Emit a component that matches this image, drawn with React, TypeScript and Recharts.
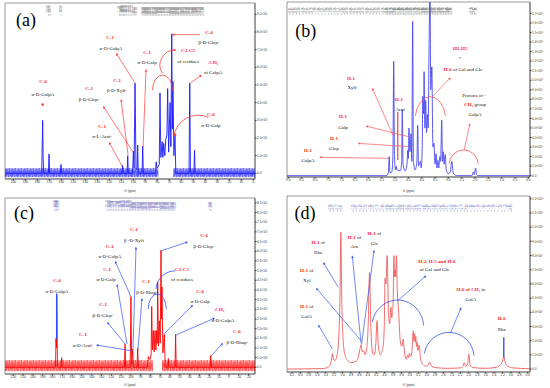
import React from "react";
import { LineChart, Line, XAxis, YAxis, ReferenceArea, ReferenceLine, ReferenceDot } from "recharts";

type Pt = [number, number];
type Note = [number, number, string, string];
type Arrow = [number, number, number, number, boolean];
type Arc = [number, number, number, number, number, number, boolean];

// ---- (a) 13C spectrum, ppm / intensity
const SPEC_A: Pt[] = [
  [207, 0], [176.4, 0], [176.0, 1.5], [175.6, 3.0], [175.2, 0.9], [174.8, 0],
  [170.8, 0], [170.3, 1.1], [169.8, 0],
  [160.8, 0], [160.3, 0.5], [159.8, 0],
  [109.5, 0], [109.0, 0.45], [108.5, 0],
  [105.2, 0], [104.7, 1.0], [104.2, 0],
  [100.6, 0], [100.0, 1.25], [99.4, 0.3], [98.6, 5.1], [97.8, 0.3], [96.9, 0.2], [96.4, 1.6], [95.9, 0],
  [92.7, 0], [92.2, 1.55], [91.7, 0],
  [81.6, 0], [81.0, 0.65], [80.2, 0.3], [78.4, 0.5], [77.8, 4.55], [77.1, 0.9], [76.0, 1.8], [75.4, 0.9],
  [74.7, 1.7], [73.8, 1.0], [73.0, 1.9], [72.0, 2.2], [71.4, 4.8], [70.6, 1.2], [69.4, 4.0], [68.7, 1.5],
  [68.0, 7.9], [67.5, 2.5], [67.0, 5.2], [66.2, 1.0], [65.3, 2.2], [64.6, 0],
  [53.6, 0], [53.0, 5.1], [52.4, 0],
  [49.5, 0], [49.0, 1.3], [48.5, 0],
  [-1.4, 0],
];
const X_TICKS_A = [200, 190, 180, 170, 160, 150, 140, 130, 120, 110, 100, 90, 80, 70, 60, 50, 40, 30, 20, 10, 0];
const Y_TICKS_A = [0, 1, 2, 3, 4, 5, 6, 7, 8, 9];
const Y_LABELS_A = ["0.0", "1.0×10⁷", "2.0×10⁷", "3.0×10⁷", "4.0×10⁷", "5.0×10⁷", "6.0×10⁷", "7.0×10⁷", "8.0×10⁷", "9.0×10⁷"];
const PICKS_A = [170.8, 169.4, 160.3, 111.7, 110.6, 109.4, 108.3, 107.2, 106.1, 104.4, 102.8, 101.1, 99.4, 97.8,
  92.2, 90.9, 89.6, 88.3, 87.0, 85.7, 84.4, 83.1, 81.8, 80.5, 79.2, 77.9, 76.6, 75.3, 74.0, 72.7, 71.4, 70.1,
  68.8, 67.5, 66.2, 64.9, 63.6, 62.3, 61.0, 59.7, 58.4, 57.1, 55.8, 54.5, 53.2, 51.9, 50.6, 49.3, 48.0, 46.7,
  45.4, 44.1, 42.8, 41.5];
const NOTES_A: Note[] = [
  [175.3, 5.22, "C-6", ""], [175.3, 4.49, "", "α-D-GalpA"],
  [119.4, 7.71, "C-1", ""], [118.6, 7.09, "", "α-D-GalpA"],
  [88.6, 6.86, "C-1", ""], [88.6, 6.3, "", "α-D-Galp"],
  [113.6, 5.28, "C-1", ""], [113.6, 4.71, "", "β-D-Xylf-"],
  [136.9, 4.83, "C-1", ""], [136.9, 4.2, "", "β-D-Glcp-"],
  [126.1, 2.68, "C-1", ""], [126.1, 2.11, "", "α-L-Araf-"],
  [36.9, 8.0, "C-6", ""], [36.9, 7.43, "", "β-D-Glcp-"],
  [54.4, 6.98, "C2-C5", ""], [54.4, 6.36, "", "of residues"],
  [33.6, 6.3, "-CH₃", ""], [33.6, 5.73, "", "of GalpA"],
  [35.3, 3.35, "C-6", ""], [35.3, 2.73, "", "α-D-Galp"],
];
const ARROWS_A: Arrow[] = [
  [98.6, 5.11, 114.4, 6.81, true], [91.9, 1.49, 89.4, 5.9, true], [104.4, 1.04, 110.3, 4.2, true],
  [100.3, 1.21, 125.3, 3.81, true], [109.4, 0.41, 120.3, 1.77, true], [44.4, 7.85, 67.8, 7.85, true],
  [52.8, 5.11, 42.8, 5.57, true],
];
const ARCS_A: Arc[] = [
  [75.7, 4.71, 10, 15, 180, 0, false], [65.3, 6.13, 15, 15, 214, 86, true], [45.8, 1.88, 25, 25, 172, 66, false],
];
const DOTS_A: Pt[] = [[175.6, 3.9], [65.3, 2.2]];

// ---- (b) 1H spectrum
const SPEC_B: Pt[] = [
  [9.05, 0], [5.32, 0], [5.25, 0.3], [5.22, 2.0], [5.19, 0.3], [5.12, 0.4], [5.08, 2.0], [5.05, 12.0], [5.02, 2.0],
  [4.98, 0.6], [4.95, 1.0], [4.93, 0.6], [4.80, 0.5], [4.75, 1.5], [4.73, 6.9], [4.70, 1.2], [4.62, 0.5], [4.55, 1.2],
  [4.52, 2.7], [4.50, 1.8], [4.48, 5.0], [4.44, 2.5], [4.40, 4.4], [4.37, 1.5], [4.34, 16.2], [4.31, 1.5], [4.25, 0.6],
  [4.18, 1.5], [4.15, 5.3], [4.12, 1.0], [4.05, 1.5], [4.02, 0.8], [3.98, 3.0], [3.96, 8.3], [3.93, 6.5], [3.91, 10.9],
  [3.88, 5.0], [3.85, 7.9], [3.82, 4.5], [3.79, 6.4], [3.76, 5.0], [3.72, 14.4], [3.69, 19.5], [3.66, 9.0], [3.62, 11.4],
  [3.58, 3.0], [3.54, 3.4], [3.50, 1.2], [3.46, 2.3], [3.43, 0.8], [3.39, 1.6], [3.36, 0.8], [3.32, 2.0], [3.29, 1.5],
  [3.25, 5.8], [3.22, 1.5], [3.19, 2.5], [3.16, 1.2], [3.12, 2.2], [3.08, 0.6], [3.00, 0.2], [2.93, 0.4], [2.87, 1.5],
  [2.82, 0.3], [2.70, 0], [2.12, 0], [2.06, 0.4], [2.03, 0.1], [1.98, 0.8], [1.94, 0.1], [1.90, 0], [-0.06, 0],
];
const X_TICKS_B = [9, 8.5, 8, 7.5, 7, 6.5, 6, 5.5, 5, 4.5, 4, 3.5, 3, 2.5, 2, 1.5, 1, 0.5, 0];
const Y_TICKS_B = [0, 1, 2, 3, 4, 5, 6, 7, 8, 9, 10, 11, 12, 13, 14, 15, 16, 17];
const Y_LABELS_B = ["0.0", "1.0×10⁷", "2.0×10⁷", "3.0×10⁷", "4.0×10⁷", "5.0×10⁷", "6.0×10⁷", "7.0×10⁷", "8.0×10⁷",
  "9.0×10⁷", "1.0×10⁸", "1.1×10⁸", "1.2×10⁸", "1.3×10⁸", "1.4×10⁸", "1.5×10⁸", "1.6×10⁸", "1.7×10⁸"];
const PICKS_B = [8.94, 8.82, 8.70, 8.58, 8.46, 8.34, 8.22, 8.10, 7.98, 7.86, 7.74, 7.62, 7.50, 7.38, 7.26, 7.14,
  7.02, 6.90, 6.78, 6.66, 6.54, 6.42, 6.30, 6.18, 6.06, 5.94, 5.82, 5.70, 5.58, 5.46, 5.34,
  5.28, 5.22, 5.16, 5.10, 5.04, 4.98, 4.92, 4.86, 4.80, 4.74, 4.68, 4.62, 4.56, 4.50, 4.44, 4.38, 4.32, 4.26,
  4.20, 4.14, 4.08, 4.02, 3.96, 3.90, 3.84, 3.78, 3.72, 3.66, 3.60, 3.54, 3.48, 3.42, 3.36, 3.30, 3.24, 3.18,
  3.12, 3.06, 3.00, 2.94, 2.88, 2.16, 2.10, 2.02, 1.96];
const NOTES_B: Note[] = [
  [2.56, 13.4, "H2-H5", ""], [2.56, 12.3, "", "*"], [2.45, 11.2, "H-6", " of Gal and Glc"],
  [6.65, 10.2, "H-1", ""], [6.61, 9.3, "", "Xylf"],
  [4.85, 8.04, "H-1", ""], [4.81, 6.99, "", "Araf"],
  [6.95, 6.26, "H-1", ""], [6.95, 5.1, "", "Galp"],
  [7.29, 3.95, "H-1", ""], [7.29, 2.9, "", "Glcp"],
  [8.26, 2.69, "H-1", ""], [8.26, 1.64, "", "GalpA"],
  [2.04, 8.46, "", "Protons of -"], [2.0, 7.52, "CH₃", " group"], [2.0, 6.47, "", "GalpA"],
];
const ARROWS_B: Arrow[] = [
  [5.08, 4.27, 5.86, 9.2, true], [4.9, 6.68, 4.9, 1.64, false], [4.5, 4.09, 6.1, 5.21, true],
  [4.5, 3.04, 6.4, 3.39, true], [5.22, 1.82, 7.84, 1.92, true], [3.6, 8.29, 2.91, 10.3, true],
  [2.41, 2.69, 2.19, 5.49, true],
];
const ARCS_B: Arc[] = [
  [3.675, 5.84, 15.3, 23.3, 170, 10, false], [2.425, 1.12, 14.7, 15, 175, 5, false],
];

// ---- (c) 13C spectrum
const SPEC_C: Pt[] = [
  [228.5, 0], [177.0, 0], [176.4, 3.0], [176.0, 2.0], [175.8, 7.6], [175.4, 5.1], [175.0, 0],
  [171.3, 0], [170.7, 1.0], [170.1, 0],
  [106.6, 0], [106.0, 2.4], [105.4, 0],
  [100.7, 0], [100.0, 7.3], [99.2, 0.3], [98.2, 1.9], [97.5, 0],
  [93.7, 0], [93.1, 2.0], [92.5, 0],
  [83.2, 0], [82.2, 1.1], [80.6, 0.8], [79.4, 1.3], [78.8, 6.3], [78.1, 1.8], [77.1, 3.8], [76.3, 1.6], [75.4, 3.8],
  [74.5, 1.8], [73.7, 3.8], [73.2, 2.5], [72.7, 8.8], [71.9, 2.2], [71.0, 4.8], [70.1, 2.5], [69.3, 12.1], [68.8, 5.0],
  [68.3, 8.3], [67.4, 1.5], [65.9, 3.4], [65.0, 0],
  [62.4, 0], [61.8, 0.9], [61.2, 0],
  [55.0, 0], [54.4, 3.4], [53.8, 0],
  [19.2, 0], [18.6, 1.2], [18.0, 0],
  [-26.6, 0],
];
const X_TICKS_C = [220, 210, 200, 190, 180, 170, 160, 150, 140, 130, 120, 110, 100, 90, 80, 70, 60, 50, 40, 30, 20, 10, 0, -10, -20];
const Y_TICKS_C = [0, 1, 2, 3, 4, 5, 6, 7, 8, 9, 10, 11, 12, 13, 14, 15, 16, 17];
const Y_LABELS_C = ["0.0", "5.0×10⁶", "1.0×10⁷", "1.5×10⁷", "2.0×10⁷", "2.5×10⁷", "3.0×10⁷", "3.5×10⁷", "4.0×10⁷",
  "4.5×10⁷", "5.0×10⁷", "5.5×10⁷", "6.0×10⁷", "6.5×10⁷", "7.0×10⁷", "7.5×10⁷", "8.0×10⁷", "8.5×10⁷"];
const PICKS_C = [177.5, 176.4, 175.3, 174.2, 124.1, 122.5, 120.9, 119.3, 117.7, 116.1, 114.5, 112.9, 111.3, 109.7,
  108.1, 106.5, 104.9, 103.3, 101.7, 100.1, 98.5, 96.9, 95.3, 93.7, 92.1, 90.5, 88.9, 87.3, 85.7, 84.1, 82.5, 80.9,
  79.3, 77.7, 76.1, 74.5, 72.9, 71.3, 69.7, 68.1, 66.5, 64.9, 63.3, 61.7, 60.1, 58.5, 56.9, 55.3, 19.3, 18.3];
const NOTES_C: Note[] = [
  [175.4, 9.03, "C-6", ""], [175.4, 7.9, "", "α-D-GalpA"],
  [96.9, 14.3, "C-1", ""], [96.9, 13.2, "", "β -D-Xylf"],
  [121.4, 12.55, "C-1", ""], [121.4, 11.5, "", "α-D-GalpA"],
  [124.4, 10.17, "C-1", ""], [125.4, 9.14, "", "α-D-Galp"],
  [84.6, 8.93, "C-1", ""], [83.6, 7.79, "", "β-D-Rhap-"],
  [128.5, 6.55, "C-1", ""], [128.5, 5.41, "", "β-D-Glcp-"],
  [148.9, 3.45, "C-1", ""], [148.9, 2.31, "", "α-D-Araf-"],
  [25.4, 13.7, "C-6", ""], [25.4, 12.55, "", "β-D-Glcp-"],
  [47.9, 10.17, "C2-C5", ""], [47.9, 9.14, "", "of residues"],
  [29.5, 7.9, "C-6", ""], [29.5, 6.86, "", "α-D-Galp"],
  [10.1, 6.03, "-CH₃", ""], [6.05, 4.9, "", "α-D-GalpA"],
  [-8.2, 3.76, "C-6", ""], [-8.6, 2.62, "", "β-D-Rhap-"],
];
const ARROWS_C: Arrow[] = [
  [97.9, 1.9, 94.8, 12.45, true], [99.9, 7.28, 116.3, 11.0, true], [104, 2.41, 114.2, 8.62, true],
  [92.8, 1.9, 88.7, 7.17, true], [106, 2.41, 124.4, 4.69, true], [97.9, 1.69, 135.6, 2.31, true],
  [69.3, 12.03, 41.8, 12.97, true], [66.3, 3.45, 36.7, 6.45, true], [54, 3.34, 14.2, 5.1, true],
  [18.3, 1.17, 6.05, 2.52, true], [175.8, 7.6, 175.8, 2.9, false],
];
const ARCS_C: Arc[] = [
  [73.1, 6.03, 9, 15, 180, 0, false], [55.0, 8.0, 19, 19, 177, 90, false],
];

// ---- (d) 1H spectrum
const SPEC_D: Pt[] = [
  [6.32, 0], [5.5, 0.03], [5.35, 0.1], [5.29, 0.35], [5.26, 0.7], [5.24, 1.1], [5.22, 0.7], [5.18, 0.6], [5.13, 1.0],
  [5.09, 2.2], [5.06, 5.5], [5.04, 9.65], [5.02, 5.0], [4.99, 2.2], [4.95, 1.1], [4.88, 0.6], [4.78, 0.45], [4.68, 0.55],
  [4.62, 0.9], [4.58, 1.5], [4.56, 1.7], [4.53, 1.2], [4.50, 1.3], [4.47, 1.0], [4.43, 1.4], [4.39, 3.2], [4.36, 6.8],
  [4.33, 3.2], [4.29, 1.2], [4.25, 1.0], [4.21, 1.8], [4.18, 3.4], [4.15, 1.6], [4.10, 1.0], [4.06, 1.3], [4.03, 1.75],
  [4.01, 3.0], [3.99, 6.4], [3.97, 6.0], [3.94, 8.0], [3.91, 4.0], [3.88, 3.2], [3.85, 4.35], [3.83, 3.6], [3.82, 3.9],
  [3.80, 4.5], [3.78, 8.0], [3.765, 6.5], [3.75, 7.0], [3.735, 6.5], [3.72, 8.0], [3.70, 5.5], [3.67, 4.2], [3.63, 2.0],
  [3.59, 1.6], [3.56, 2.1], [3.53, 1.2], [3.49, 0.7], [3.45, 1.0], [3.43, 0.8], [3.41, 1.1], [3.38, 0.9], [3.35, 1.3],
  [3.32, 2.7], [3.305, 2.0], [3.29, 2.5], [3.275, 1.9], [3.26, 2.3], [3.245, 1.6], [3.23, 1.9], [3.21, 1.3], [3.18, 1.7],
  [3.15, 0.8], [3.10, 0.35], [3.0, 0.2], [2.96, 0.3], [2.93, 0.5], [2.90, 0.25], [2.80, 0.1], [2.5, 0.05], [2.2, 0.08],
  [2.14, 0.2], [2.11, 0.45], [2.08, 0.2], [2.03, 0.35], [2.0, 1.05], [1.97, 0.3], [1.9, 0.1], [1.6, 0.05], [1.35, 0.12],
  [1.25, 0.3], [1.2, 0.55], [1.17, 0.9], [1.14, 0.5], [1.08, 0.2], [0.95, 0.08], [0.547, 0.02],
];
const X_TICKS_D = [6.2, 6.0, 5.8, 5.6, 5.4, 5.2, 5.0, 4.8, 4.6, 4.4, 4.2, 4.0, 3.8, 3.6, 3.4, 3.2, 3.0, 2.8, 2.6,
  2.4, 2.2, 2.0, 1.8, 1.6, 1.4, 1.2, 1.0, 0.8, 0.6];
const Y_TICKS_D = [0, 1, 2, 3, 4, 5, 6, 7, 8, 9, 10, 11, 12];
const Y_LABELS_D = ["0.0", "1.0×10⁷", "2.0×10⁷", "3.0×10⁷", "4.0×10⁷", "5.0×10⁷", "6.0×10⁷", "7.0×10⁷", "8.0×10⁷",
  "9.0×10⁷", "1.0×10⁸", "1.1×10⁸", "1.2×10⁸"];
const PICKS_D = [5.30, 5.22, 5.12, 5.04, 4.75, 4.67, 4.59, 4.51, 4.43, 4.35, 4.27, 4.19, 4.11, 4.03, 3.95, 3.87, 3.79,
  3.71, 3.63, 3.55, 3.47, 3.39, 3.31, 3.23, 3.15, 3.07, 2.99, 2.91, 2.83, 2.75, 2.67, 2.59, 2.51, 2.43, 2.35, 2.27,
  2.19, 2.11, 2.03, 1.95, 1.87, 1.79, 1.71, 1.63, 1.55, 1.47, 1.39, 1.31, 1.23, 1.15, 1.07, 0.99];
const NOTES_D: Note[] = [
  [5.58, 8.94, "H-1", " of"], [5.58, 8.24, "", "Rha"],
  [4.72, 9.34, "H-1", " of"], [4.72, 8.64, "", "Ara"],
  [4.245, 9.6, "H-1", " of"], [4.245, 8.87, "", "Glc"],
  [5.85, 6.99, "H-1", " of"], [5.85, 6.28, "", "Xyl"],
  [5.85, 4.47, "H-1", " of"], [5.85, 3.76, "", "GalA"],
  [2.76, 7.65, "H-2, H-5 and H-6", ""], [2.82, 7.06, "", "of Gal and Glc"],
  [1.95, 5.65, "H-6 of CH₃", " in"], [1.95, 4.94, "", "GalA"],
  [1.22, 3.6, "H-6", ""], [1.22, 2.82, "", "Rha"],
];
const ARROWS_D: Arrow[] = [
  [5.1, 5.76, 5.46, 7.53, true], [4.56, 2.0, 5.63, 5.72, true], [4.56, 1.81, 4.77, 8.0, true],
  [4.55, 1.72, 4.25, 8.4, true], [5.24, 1.41, 5.58, 3.13, true], [3.69, 4.82, 3.01, 6.59, true],
  [2.44, 2.52, 2.18, 4.35, true], [1.17, 2.24, 1.17, 0.82, false],
];
const ARCS_D: Arc[] = [
  [3.69, 2.94, 26, 27.3, 169, 4, false], [2.47, 0.82, 25, 25, 171, 4, false],
];

const SERIF = "'Liberation Serif', 'Times New Roman', serif";
const SANS = "'Liberation Sans', Arial, sans-serif";

function arrowShape(color: string, head: boolean, w: number) {
  return (p: any) => {
    const { x1, y1, x2, y2 } = p;
    const dx = x2 - x1, dy = y2 - y1;
    const L = Math.hypot(dx, dy) || 1;
    const ux = dx / L, uy = dy / L;
    const s = 2.6;
    const bx = x2 - ux * s, by = y2 - uy * s;
    return (
      <g>
        <line x1={x1} y1={y1} x2={head ? bx : x2} y2={head ? by : y2} stroke={color} strokeWidth={w} />
        {head && (
          <polygon
            points={`${x2},${y2} ${bx - uy * 1.3},${by + ux * 1.3} ${bx + uy * 1.3},${by - ux * 1.3}`}
            fill={color}
          />
        )}
      </g>
    );
  };
}

function arcShape(color: string, a: Arc) {
  const [, , rx, ry, a0, a1, head] = a;
  return (p: any) => {
    const { cx, cy } = p;
    const r = (d: number) => (d * Math.PI) / 180;
    const sx = cx + rx * Math.cos(r(a0)), sy = cy - ry * Math.sin(r(a0));
    const ex = cx + rx * Math.cos(r(a1)), ey = cy - ry * Math.sin(r(a1));
    const large = a0 - a1 > 180 ? 1 : 0;
    let tx = rx * Math.sin(r(a1)), ty = ry * Math.cos(r(a1));
    const L = Math.hypot(tx, ty) || 1;
    tx /= L; ty /= L;
    const bx = ex - tx * 2.6, by = ey - ty * 2.6;
    return (
      <g>
        <path d={`M${sx},${sy} A${rx},${ry} 0 ${large} 1 ${ex},${ey}`} stroke={color} strokeWidth={0.8} fill="none" />
        {head && (
          <polygon points={`${ex},${ey} ${bx - ty * 1.3},${by + tx * 1.3} ${bx + ty * 1.3},${by - tx * 1.3}`} fill={color} />
        )}
      </g>
    );
  };
}

function noteShape(n: Note, red: string) {
  return (p: any) => (
    <text x={p.cx} y={p.cy} textAnchor="middle" dominantBaseline="central" fontFamily={SERIF} fontSize={5}>
      {n[2] && <tspan fill={red} fontWeight="bold">{n[2]}</tspan>}
      {n[3] && <tspan fill="#1a1a1a">{n[3]}</tspan>}
    </text>
  );
}

type PanelProps = {
  left: number;
  top: number;
  mt: number;
  ml: number;
  xh: number;
  xDomain: [number, number];
  yDomain: [number, number];
  xTicks: number[];
  xDec: number;
  yTicks: number[];
  yLabels: string[];
  spec: Pt[];
  curve: "linear" | "monotone";
  color: string;
  noise?: [number, number][];
  noiseY?: [number, number];
  noiseColor?: string;
  picks: number[];
  pickColor: string;
  stripTop: number;
  stripH: number;
  notes: Note[];
  arrows: Arrow[];
  arcs: Arc[];
  dots?: Pt[];
  ink: string;
  red: string;
  letter: [number, number, string];
  id: string;
};

function Panel(P: PanelProps) {
  const data = P.spec.map(([p, i]) => ({ p, i }));
  const plotH = 194 - P.mt - P.xh;
  const ySpan = P.yDomain[1] - P.yDomain[0];
  const yPx = (v: number) => P.mt + ((P.yDomain[1] - v) / ySpan) * plotH;
  let noiseDefs = null;
  if (P.noise && P.noiseY) {
    const t = yPx(P.noiseY[1]);
    const h = yPx(P.noiseY[0]) - t;
    const c = P.noiseColor!;
    const segs: [number, number][] = [[0.05, 0.95], [0.3, 0.8], [0.1, 0.7], [0.35, 1], [0, 0.6], [0.2, 0.9], [0.4, 0.85], [0.15, 1]];
    noiseDefs = (
      <svg width={0} height={0} style={{ position: "absolute" }}>
        <defs>
          <pattern id={`nz${P.id}`} x={0} y={t} width={segs.length * 0.75} height={h} patternUnits="userSpaceOnUse">
            <rect width={segs.length * 0.75} height={h} fill={c} fillOpacity={0.3} />
            {segs.map((s, k) => (
              <line key={k} x1={k * 0.75 + 0.35} x2={k * 0.75 + 0.35} y1={s[0] * h} y2={s[1] * h} stroke={c} strokeWidth={0.55} />
            ))}
          </pattern>
        </defs>
      </svg>
    );
  }
  const pickShape = (p: any) => {
    const b = P.stripTop + P.stripH;
    return (
      <g>
        <text
          transform={`translate(${p.cx + 0.9},${b - 0.5}) rotate(-90)`}
          fontSize={2.6}
          fontFamily={SANS}
          fill={P.pickColor}
        >
          {p.label}
        </text>
        <line x1={p.cx} x2={p.cx} y1={b} y2={b + 1.8} stroke={P.pickColor} strokeWidth={0.4} />
      </g>
    );
  };
  return (
    <div style={{ position: "absolute", left: P.left, top: P.top }}>
      {noiseDefs}
      <LineChart width={275} height={194} data={data} margin={{ top: P.mt, left: P.ml, right: 0, bottom: 0 }}>
        <XAxis
          dataKey="p"
          type="number"
          domain={P.xDomain}
          reversed
          allowDataOverflow
          ticks={P.xTicks}
          interval={0}
          height={P.xh}
          tickSize={1.5}
          tickMargin={0.5}
          tick={{ fontSize: 3.3, fill: "#333", fontFamily: SANS }}
          tickFormatter={(v: number) => v.toFixed(P.xDec)}
          stroke="#333"
          axisLine={{ stroke: "#333", strokeWidth: 0.6 }}
          label={{ value: "f1 (ppm)", position: "insideBottom", offset: 2, fontSize: 3.3, fill: "#333" }}
        />
        <YAxis
          orientation="right"
          type="number"
          domain={P.yDomain}
          allowDataOverflow
          ticks={P.yTicks}
          interval={0}
          width={20}
          tickSize={1.5}
          tickMargin={0.5}
          tick={{ fontSize: 3.2, fill: "#333", fontFamily: SANS }}
          tickFormatter={(v: number) => P.yLabels[P.yTicks.indexOf(v)] ?? ""}
          axisLine={{ stroke: "#333", strokeWidth: 0.6 }}
          stroke="#333"
        />
        <ReferenceArea
          x1={P.xDomain[0]}
          x2={P.xDomain[1]}
          y1={P.yDomain[0]}
          y2={P.yDomain[1]}
          fill="none"
          stroke="#555"
          strokeWidth={0.6}
          ifOverflow="visible"
        />
        {P.noise &&
          P.noise.map((r, k) => (
            <ReferenceArea
              key={`nz${k}`}
              x1={r[0]}
              x2={r[1]}
              y1={P.noiseY![0]}
              y2={P.noiseY![1]}
              fill={`url(#nz${P.id})`}
              fillOpacity={1}
              stroke="none"
              ifOverflow="visible"
            />
          ))}
        <Line
          dataKey="i"
          type={P.curve}
          stroke={P.color}
          strokeWidth={0.9}
          dot={false}
          activeDot={false}
          isAnimationActive={false}
        />
        {P.picks.map((v, k) => (
          <ReferenceDot
            key={`pk${k}`}
            x={v}
            y={P.yDomain[1]}
            r={1}
            ifOverflow="visible"
            shape={(p: any) => pickShape({ ...p, label: v.toFixed(2) })}
          />
        ))}
        {P.arcs.map((a, k) => (
          <ReferenceDot key={`arc${k}`} x={a[0]} y={a[1]} r={1} ifOverflow="visible" shape={arcShape(P.ink, a)} />
        ))}
        {P.arrows.map((a, k) => (
          <ReferenceLine
            key={`ar${k}`}
            segment={[{ x: a[0], y: a[1] }, { x: a[2], y: a[3] }]}
            ifOverflow="visible"
            shape={arrowShape(P.ink, a[4], a[4] ? 0.7 : 1.4)}
          />
        ))}
        {(P.dots || []).map((d, k) => (
          <ReferenceDot key={`dt${k}`} x={d[0]} y={d[1]} r={1.3} fill={P.ink} stroke="none" ifOverflow="visible" />
        ))}
        {P.notes.map((n, k) => (
          <ReferenceDot key={`nt${k}`} x={n[0]} y={n[1]} r={1} ifOverflow="visible" shape={noteShape(n, P.red)} />
        ))}
        <ReferenceDot
          x={P.letter[0]}
          y={P.letter[1]}
          r={1}
          ifOverflow="visible"
          shape={(p: any) => (
            <text x={p.cx} y={p.cy} textAnchor="middle" dominantBaseline="central" fontFamily={SERIF} fontSize={18} fill="#000">
              {P.letter[2]}
            </text>
          )}
        />
      </LineChart>
    </div>
  );
}

export default function App() {
  return (
    <div style={{ position: "absolute", left: 0, top: 0, width: 550, height: 388, background: "#fff", overflow: "hidden" }}>
      <Panel
        id="a" left={0} top={0} mt={3} ml={5} xh={15}
        xDomain={[-1.4, 207]} yDomain={[-0.32, 9.64]}
        xTicks={X_TICKS_A} xDec={0} yTicks={Y_TICKS_A} yLabels={Y_LABELS_A}
        spec={SPEC_A} curve="linear" color="#1a1aff"
        noise={[[207, 79.2], [66.7, -1.4]]} noiseY={[-0.22, 0.3]} noiseColor="#1f1fff"
        picks={PICKS_A} pickColor="#666" stripTop={4} stripH={10}
        notes={NOTES_A} arrows={ARROWS_A} arcs={ARCS_A} dots={DOTS_A} ink="#ff3b3b" red="#ff1a1a"
        letter={[189.4, 8.69, "(a)"]}
      />
      <Panel
        id="b" left={275} top={0} mt={2} ml={12} xh={17}
        xDomain={[-0.06, 9.05]} yDomain={[-0.14, 18.2]}
        xTicks={X_TICKS_B} xDec={1} yTicks={Y_TICKS_B} yLabels={Y_LABELS_B}
        spec={SPEC_B} curve="monotone" color="#4646f0"
        picks={PICKS_B} pickColor="#666" stripTop={3} stripH={10}
        notes={NOTES_B} arrows={ARROWS_B} arcs={ARCS_B} ink="#ff5555" red="#ff1a1a"
        letter={[8.35, 15.2, "(b)"]}
      />
      <Panel
        id="c" left={0} top={194} mt={4} ml={5} xh={14}
        xDomain={[-26.6, 228.5]} yDomain={[-0.69, 17.5]}
        xTicks={X_TICKS_C} xDec={0} yTicks={Y_TICKS_C} yLabels={Y_LABELS_C}
        spec={SPEC_C} curve="linear" color="#ff0000"
        noise={[[228.5, 77.5], [68.3, -26.6]]} noiseY={[-0.41, 0.76]} noiseColor="#ff1010"
        picks={PICKS_C} pickColor="#6a6ab8" stripTop={7} stripH={8}
        notes={NOTES_C} arrows={ARROWS_C} arcs={ARCS_C} ink="#2f4dff" red="#ff1a1a"
        letter={[209.1, 16.0, "(c)"]}
      />
      <Panel
        id="d" left={275} top={194} mt={2} ml={12} xh={16}
        xDomain={[0.547, 6.32]} yDomain={[-0.21, 12.2]}
        xTicks={X_TICKS_D} xDec={1} yTicks={Y_TICKS_D} yLabels={Y_LABELS_D}
        spec={SPEC_D} curve="monotone" color="#f05a5a"
        picks={PICKS_D} pickColor="#6a6ab8" stripTop={7} stripH={9}
        notes={NOTES_D} arrows={ARROWS_D} arcs={ARCS_D} ink="#3355ee" red="#ff1a1a"
        letter={[5.89, 11.0, "(d)"]}
      />
    </div>
  );
}
